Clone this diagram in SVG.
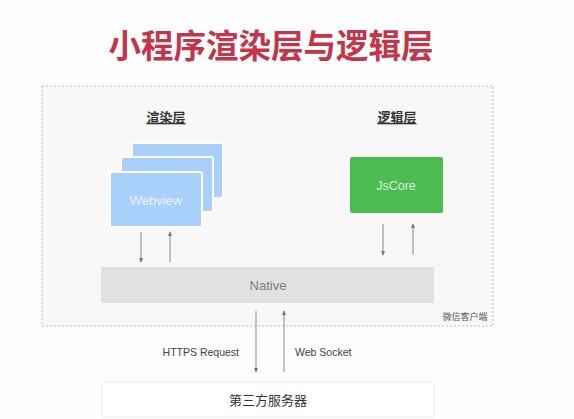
<svg xmlns="http://www.w3.org/2000/svg" width="574" height="419" viewBox="0 0 574 419">
<style>
.cn{font-family:"Liberation Sans","Noto Sans CJK SC",sans-serif}
.lbl{font-size:13px;fill:#333;font-weight:bold;text-anchor:middle;text-decoration:underline}
.arr{stroke:#8a8a8a;stroke-width:1;fill:none}
.card{fill:#a9d0fb;stroke:#ffffff;stroke-width:2}
.sm{font-size:10.5px;fill:#444}
</style>
<defs>
<marker id="ah" viewBox="0 0 6 6" refX="5" refY="3" markerWidth="5" markerHeight="5" orient="auto">
<path d="M0,0.5 L6,3 L0,5.5 z" fill="#777"/>
</marker>
</defs>
<rect width="574" height="419" fill="#fdfdfd"/>
<text id="title" class="cn" x="271" y="58" font-size="32.5" font-weight="bold" fill="#c4344b" text-anchor="middle">小程序渲染层与逻辑层</text>
<g id="client">
<rect x="42" y="86" width="451" height="240" fill="#f8f8f8" stroke="#bdbdbd" stroke-width="1" stroke-dasharray="2,2"/>
<text class="cn" x="465" y="320" font-size="9" fill="#555" text-anchor="middle">微信客户端</text>
</g>
<text id="render-label" class="cn lbl" x="166" y="122">渲染层</text>
<text id="logic-label" class="cn lbl" x="397" y="122">逻辑层</text>
<g id="webview">
<rect class="card" x="132" y="143" width="91" height="55" rx="2"/>
<rect class="card" x="121" y="157" width="92" height="55" rx="2"/>
<rect class="card" x="110" y="172" width="92" height="55" rx="2"/>
<text class="cn" x="156" y="205" font-size="13" fill="#ffffff" fill-opacity="0.75" text-anchor="middle">Webview</text>
</g>
<g id="jscore">
<rect x="350" y="157" width="93" height="56" rx="2" fill="#4cbb52"/>
<text class="cn" x="396" y="190" font-size="12.5" fill="#d8f0d8" text-anchor="middle">JsCore</text>
</g>
<g id="native">
<rect x="101" y="267" width="333" height="36" fill="#e1e1e1"/>
<text class="cn" x="268" y="290" font-size="13" fill="#7d7d7d" text-anchor="middle">Native</text>
</g>
<g id="server">
<rect x="102" y="382" width="332" height="35" rx="3" fill="#ffffff" stroke="#ececec" stroke-width="1"/>
<text class="cn" x="268" y="405" font-size="13" fill="#333" text-anchor="middle">第三方服务器</text>
</g>
<g id="connectors">
<line class="arr" x1="141" y1="232" x2="141" y2="262" marker-end="url(#ah)"/>
<line class="arr" x1="170" y1="262" x2="170" y2="232" marker-end="url(#ah)"/>
<line class="arr" x1="383" y1="224" x2="383" y2="255" marker-end="url(#ah)"/>
<line class="arr" x1="413" y1="255" x2="413" y2="224" marker-end="url(#ah)"/>
<line class="arr" x1="256" y1="311" x2="256" y2="372" marker-end="url(#ah)"/>
<line class="arr" x1="284" y1="372" x2="284" y2="311" marker-end="url(#ah)"/>
<text class="cn sm" x="239" y="356" text-anchor="end">HTTPS Request</text>
<text class="cn sm" x="295" y="356">Web Socket</text>
</g>
</svg>
